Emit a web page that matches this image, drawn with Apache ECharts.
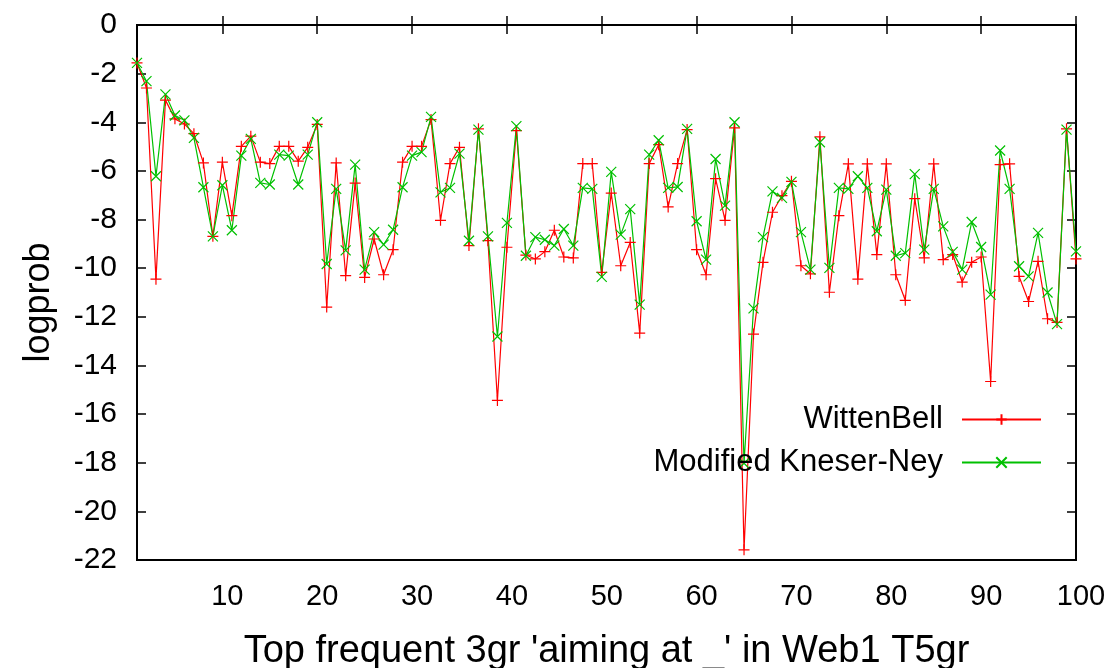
<!DOCTYPE html>
<html>
<head>
<meta charset="utf-8">
<script src="https://cdn.jsdelivr.net/npm/echarts@6/dist/echarts.min.js"></script>
<style>
html,body{margin:0;padding:0;background:#fff;}
#chart{width:1108px;height:668px;}
</style>
</head>
<body>
<div id="chart"></div>
<script>
// Rank of the trigram (x positions)
const ranks = [1,2,3,4,5,6,7,8,9,10,11,12,13,14,15,16,17,18,19,20,
  21,22,23,24,25,26,27,28,29,30,31,32,33,34,35,36,37,38,39,40,
  41,42,43,44,45,46,47,48,49,50,51,52,53,54,55,56,57,58,59,60,
  61,62,63,64,65,66,67,68,69,70,71,72,73,74,75,76,77,78,79,80,
  81,82,83,84,85,86,87,88,89,90,91,92,93,94,95,96,97,98,99,100];

const xTickLabels = ['10','20','30','40','50','60','70','80','90','100'];

const wittenBell = [
  -1.56,-2.59,-10.45,-3.09,-3.86,-4.07,-4.47,-5.67,-8.69,-5.64,
  -7.84,-4.99,-4.57,-5.64,-5.70,-4.99,-4.99,-5.60,-5.03,-4.09,
  -11.60,-5.67,-10.31,-6.50,-10.38,-8.80,-10.27,-9.24,-5.64,-4.99,
  -4.99,-3.89,-8.03,-5.70,-5.03,-9.07,-4.27,-8.87,-15.44,-9.14,
  -4.34,-9.46,-9.62,-9.32,-8.44,-9.54,-9.58,-5.70,-5.70,-10.17,
  -6.91,-9.90,-8.94,-12.67,-5.70,-4.92,-7.48,-5.70,-4.30,-9.24,
  -10.27,-6.32,-8.03,-4.23,-21.58,-12.71,-9.76,-7.70,-7.02,-6.43,
  -9.90,-10.23,-4.60,-10.99,-7.84,-5.71,-10.45,-5.71,-9.44,-5.71,
  -10.27,-11.32,-7.14,-9.58,-5.71,-9.65,-9.44,-10.57,-9.76,-9.54,
  -14.66,-5.74,-5.71,-10.34,-11.37,-9.72,-12.08,-12.23,-4.27,-9.62];

const kneserNey = [
  -1.56,-2.31,-6.22,-2.85,-3.72,-3.92,-4.64,-6.67,-8.69,-6.59,
  -8.44,-5.37,-4.68,-6.49,-6.56,-5.33,-5.37,-6.56,-5.33,-4.00,
  -9.83,-6.74,-9.27,-5.74,-10.06,-8.52,-9.03,-8.42,-6.67,-5.37,
  -5.23,-3.78,-6.88,-6.70,-5.29,-8.87,-4.30,-8.69,-12.81,-8.14,
  -4.16,-9.49,-8.72,-8.83,-9.07,-8.39,-9.07,-6.70,-6.74,-10.36,
  -6.04,-8.62,-7.57,-11.50,-5.33,-4.74,-6.70,-6.66,-4.27,-8.07,
  -9.65,-5.51,-7.43,-4.00,-18.02,-11.65,-8.72,-6.84,-7.11,-6.45,
  -8.52,-10.06,-4.82,-9.99,-6.70,-6.74,-6.22,-6.70,-8.48,-6.77,
  -9.49,-9.38,-6.13,-9.24,-6.74,-8.28,-9.33,-10.06,-8.10,-9.13,
  -11.09,-5.16,-6.74,-9.92,-10.34,-8.55,-11.00,-12.30,-4.30,-9.31];

const seriesNames = ['WittenBell', 'Modified Kneser-Ney'];

const FONT = '"Liberation Sans", Arial, sans-serif';
const PLUS = 'path://M0,5L10,5M5,0L5,10';
const CROSS = 'path://M0,0L10,10M0,10L10,0';

const chart = echarts.init(document.getElementById('chart'), null, {renderer: 'canvas'});

const showTick = (idx, val) => xTickLabels.includes(String(val));

const tickStyle = {show: true, inside: true, length: 9, lineStyle: {color: '#000', width: 1.5}};

chart.setOption({
  animation: false,
  backgroundColor: '#fff',
  textStyle: {fontFamily: FONT},
  grid: {left: 137, right: 32, top: 25, bottom: 108, outerBoundsMode: 'none', containLabel: false,
    show: true, borderColor: '#000', borderWidth: 2, backgroundColor: 'transparent'},
  legend: {
    orient: 'vertical',
    align: 'right',
    right: 61,
    top: 399,
    itemWidth: 79,
    itemHeight: 13,
    itemGap: 12,
    textStyle: {fontSize: 31, fontFamily: FONT, color: '#000', lineHeight: 30, padding: [0, 14, 0, 0]},
    data: seriesNames
  },
  xAxis: [{
    type: 'category',
    data: ranks,
    boundaryGap: false,
    position: 'bottom',
    name: "Top frequent 3gr 'aiming at _' in Web1 T5gr",
    nameLocation: 'middle',
    nameGap: 73,
    nameTextStyle: {fontSize: 38, fontFamily: FONT, color: '#000'},
    axisLine: {show: false},
    axisTick: Object.assign({interval: showTick}, tickStyle),
    axisLabel: {interval: showTick, fontSize: 29, color: '#000', margin: 22, fontFamily: FONT, padding: [0, 0, 0, 10]},
    splitLine: {show: false}
  }, {
    type: 'category',
    data: ranks,
    boundaryGap: false,
    position: 'top',
    axisLine: {show: false},
    axisTick: Object.assign({interval: showTick}, tickStyle),
    axisLabel: {show: false},
    splitLine: {show: false}
  }],
  yAxis: [{
    type: 'value',
    min: -22,
    max: 0,
    interval: 2,
    position: 'left',
    name: 'logprob',
    nameLocation: 'middle',
    nameGap: 80,
    nameTextStyle: {fontSize: 36, fontFamily: FONT, color: '#000', padding: [0, 20, 0, 0]},
    axisLine: {show: false},
    axisTick: tickStyle,
    axisLabel: {fontSize: 30, color: '#000', margin: 20, fontFamily: FONT},
    splitLine: {show: false}
  }, {
    type: 'value',
    min: -22,
    max: 0,
    interval: 2,
    position: 'right',
    axisLine: {show: false},
    axisTick: tickStyle,
    axisLabel: {show: false},
    splitLine: {show: false}
  }],
  series: [{
    name: seriesNames[0],
    type: 'line',
    xAxisIndex: 0,
    yAxisIndex: 0,
    data: wittenBell,
    symbol: PLUS,
    symbolSize: 11,
    showAllSymbol: true,
    lineStyle: {color: '#ff0000', width: 1.2},
    itemStyle: {color: '#ff0000', borderColor: '#ff0000', borderWidth: 1.2},
    emphasis: {disabled: true}
  }, {
    name: seriesNames[1],
    type: 'line',
    xAxisIndex: 0,
    yAxisIndex: 0,
    data: kneserNey,
    symbol: CROSS,
    symbolSize: 10,
    showAllSymbol: true,
    lineStyle: {color: '#00c000', width: 1.2},
    itemStyle: {color: '#00c000', borderColor: '#00c000', borderWidth: 1.2},
    emphasis: {disabled: true}
  }]
});
</script>
</body>
</html>
